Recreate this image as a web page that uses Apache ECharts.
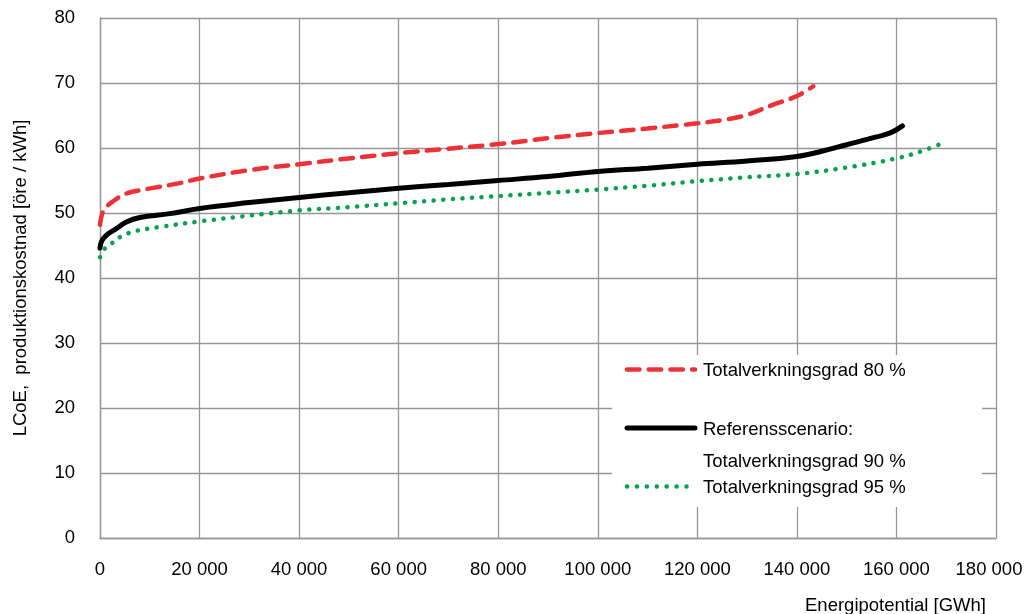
<!DOCTYPE html>
<html>
<head>
<meta charset="utf-8">
<script src="https://cdn.jsdelivr.net/npm/echarts@6/dist/echarts.min.js"></script>
<style>
html,body{margin:0;padding:0;background:#fff;}
#c{width:1024px;height:614px;}
</style>
</head>
<body>
<div id="c"></div>
<script>
// ---- data ----
const seriesNames = ['Totalverkningsgrad 80 %', 'Referensscenario: Totalverkningsgrad 90 %', 'Totalverkningsgrad 95 %'];

const xRed = [0, 300, 700, 1600, 3000, 4700, 6700, 11000, 16000, 20000, 30000, 40000, 50000, 60000, 70000, 80000, 90000, 100000, 110000, 116500, 120000, 125000, 130000, 135000, 140000, 143300];
const yRed = [48.2, 49.5, 50.3, 51.2, 52.0, 52.8, 53.3, 53.9, 54.6, 55.3, 56.6, 57.5, 58.4, 59.2, 59.9, 60.6, 61.5, 62.3, 63.0, 63.5, 63.8, 64.3, 65.1, 66.6, 68.0, 69.5];

const xBlack = [0, 300, 1300, 3300, 5300, 8000, 14000, 20000, 30000, 40000, 50000, 60000, 70000, 80000, 90000, 100000, 110000, 120000, 130000, 140000, 145000, 150000, 156000, 159000, 161200];
const yBlack = [44.6, 45.6, 46.6, 47.6, 48.6, 49.3, 49.9, 50.7, 51.6, 52.4, 53.1, 53.8, 54.4, 55.0, 55.6, 56.4, 56.9, 57.5, 58.0, 58.7, 59.5, 60.5, 61.7, 62.4, 63.4];

const xGreen = [0, 700, 2300, 4000, 5700, 7500, 11500, 20000, 30000, 40000, 50000, 60000, 70000, 80000, 90000, 100000, 110000, 120000, 130000, 140000, 150000, 160000, 165000, 169500];
const yGreen = [43.2, 44.3, 45.3, 46.3, 46.9, 47.3, 47.8, 48.7, 49.6, 50.4, 50.9, 51.5, 52.1, 52.6, 53.1, 53.6, 54.2, 54.9, 55.5, 56.0, 57.0, 58.4, 59.5, 60.8];

const xAxisTitle = 'Energipotential [GWh]';
const yAxisTitle = 'LCoE,  produktionskostnad [öre / kWh]';
const legendLabels = ['Totalverkningsgrad 80 %', 'Referensscenario:', 'Totalverkningsgrad 90 %', 'Totalverkningsgrad 95 %'];

// ---- build ----
const zip = (xs, ys) => xs.map((x, i) => [x, ys[i]]);
const fmt = v => String(v).replace(/\B(?=(\d{3})+(?!\d))/g, ' ');
const FONT = '"Liberation Sans", Arial, sans-serif';
const FS = 18.5;
const GRID = '#969696';
const RED = '#ED3237', BLACK = '#000000', GREEN = '#00A04E';

const chart = echarts.init(document.getElementById('c'), null, {renderer: 'canvas'});

chart.setOption({
  animation: false,
  backgroundColor: '#fff',
  textStyle: {fontFamily: FONT},
  grid: {left: 100, right: 28, top: 18, bottom: 76, containLabel: false, outerBoundsMode: 'none'},
  xAxis: {
    type: 'value', min: 0, max: 180000, interval: 20000,
    name: xAxisTitle, nameLocation: 'end', nameGap: -10,
    nameTextStyle: {fontFamily: FONT, fontSize: FS, color: '#000', align: 'right', verticalAlign: 'top', padding: [58, 0, 0, 0]},
    axisLine: {show: true, lineStyle: {color: GRID, width: 1.3}},
    axisTick: {show: false},
    splitLine: {show: true, lineStyle: {color: GRID, width: 1.3}},
    axisLabel: {
      fontFamily: FONT, fontSize: FS, color: '#000', margin: 22,
      formatter: v => v === 180000 ? '{last|' + fmt(v) + '}' : fmt(v),
      rich: {last: {fontFamily: FONT, fontSize: FS, color: '#000', padding: [0, 14, 0, 0]}}
    }
  },
  yAxis: {
    type: 'value', min: 0, max: 80, interval: 10,
    name: yAxisTitle, nameLocation: 'middle', nameGap: 70, nameRotate: 90,
    nameTextStyle: {fontFamily: FONT, fontSize: FS, color: '#000'},
    axisLine: {show: true, lineStyle: {color: GRID, width: 1.3}},
    axisTick: {show: false},
    splitLine: {show: true, lineStyle: {color: GRID, width: 1.3}},
    axisLabel: {fontFamily: FONT, fontSize: FS, color: '#000', margin: 25}
  },
  series: [
    {
      name: seriesNames[0], type: 'line', data: zip(xRed, yRed), showSymbol: false,
      smooth: 0.4,
      lineStyle: {color: RED, width: 4.5, type: [12.5, 9.2], cap: 'round'}, z: 3
    },
    {
      name: seriesNames[1], type: 'line', data: zip(xBlack, yBlack), showSymbol: false,
      smooth: 0.4,
      lineStyle: {color: BLACK, width: 5, cap: 'round'}, z: 4
    },
    {
      name: seriesNames[2], type: 'line', data: zip(xGreen, yGreen), showSymbol: false,
      smooth: 0.4,
      lineStyle: {color: GREEN, width: 4.5, type: [0.1, 9.5], cap: 'round'}, z: 3
    }
  ],
  graphic: [
    {type: 'rect', shape: {x: 612, y: 355, width: 370, height: 152}, style: {fill: '#fff'}, z: 10},
    {type: 'line', shape: {x1: 627, y1: 369.5, x2: 695, y2: 369.5}, style: {stroke: RED, lineWidth: 4.5, lineDash: [12.5, 9.2], lineCap: 'round'}, z: 11},
    {type: 'text', x: 703, y: 371, style: {text: legendLabels[0], font: FS + 'px ' + FONT, fill: '#000', textVerticalAlign: 'middle', verticalAlign: 'middle'}, z: 11},
    {type: 'line', shape: {x1: 627, y1: 428, x2: 695, y2: 428}, style: {stroke: BLACK, lineWidth: 5, lineCap: 'round'}, z: 11},
    {type: 'text', x: 703, y: 430, style: {text: legendLabels[1], font: FS + 'px ' + FONT, fill: '#000', textVerticalAlign: 'middle', verticalAlign: 'middle'}, z: 11},
    {type: 'text', x: 703, y: 462, style: {text: legendLabels[2], font: FS + 'px ' + FONT, fill: '#000', textVerticalAlign: 'middle', verticalAlign: 'middle'}, z: 11},
    {type: 'line', shape: {x1: 627, y1: 486.5, x2: 696, y2: 486.5}, style: {stroke: GREEN, lineWidth: 4.5, lineDash: [0.1, 9.8], lineCap: 'round'}, z: 11},
    {type: 'text', x: 703, y: 488, style: {text: legendLabels[3], font: FS + 'px ' + FONT, fill: '#000', textVerticalAlign: 'middle', verticalAlign: 'middle'}, z: 11}
  ]
});
</script>
</body>
</html>
